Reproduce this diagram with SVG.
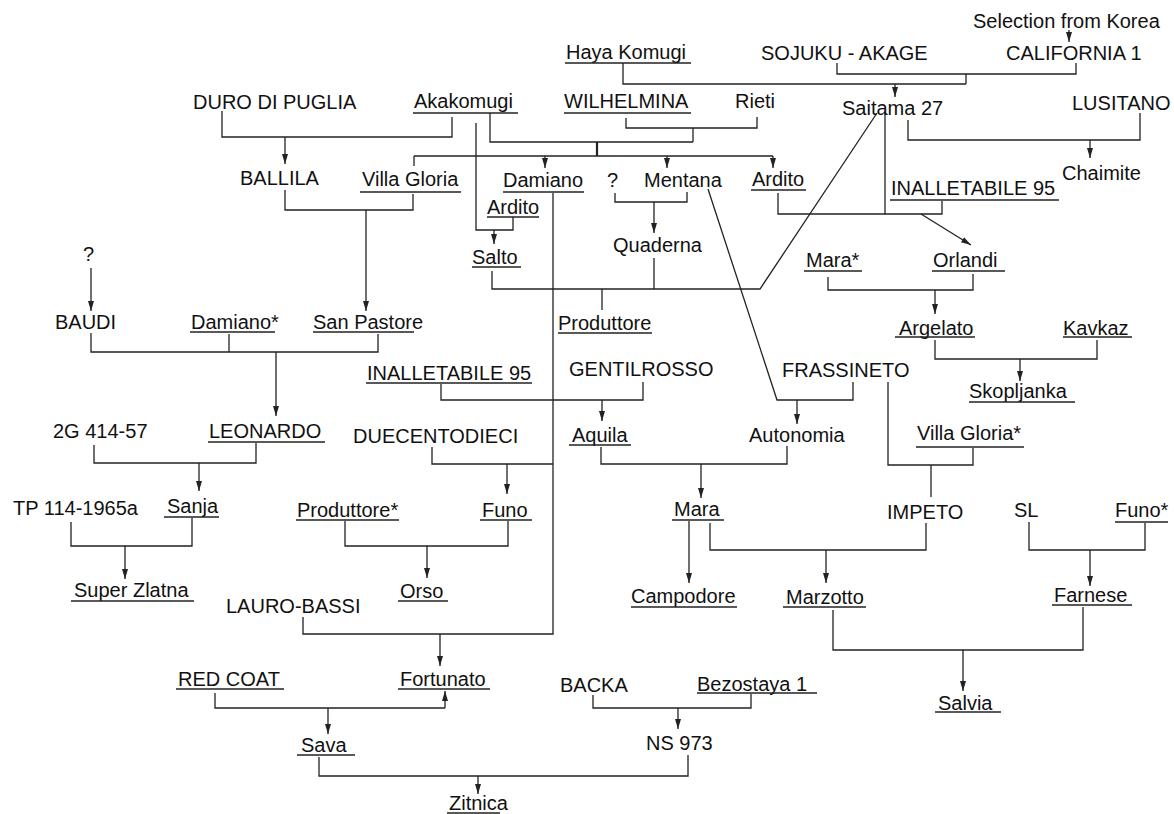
<svg xmlns="http://www.w3.org/2000/svg" width="1174" height="814" viewBox="0 0 1174 814">
<style>
.t{font-family:"Liberation Sans",Arial,Helvetica,sans-serif;font-size:20px;fill:#111}
.u{stroke:#222;stroke-width:1.3;fill:none}
.c path{fill:none;stroke:#222;stroke-width:1.3}
.a{marker-end:url(#ah)}
</style>
<defs>
<marker id="ah" viewBox="0 0 10 6" refX="10" refY="3" markerWidth="10" markerHeight="6" markerUnits="userSpaceOnUse" orient="auto">
<path d="M0,0 L10,3 L0,6 z" fill="#222"/>
</marker>
</defs>
<rect width="1174" height="814" fill="#fff"/>
<g id="connectors" class="c">
<path class="a" d="M1069,30 V42"/>
<path d="M837,63 V74 H1076 V63"/>
<path d="M966,74 V84"/>
<path d="M623,63 V84 H966"/>
<path class="a" d="M895,84 V97"/>
<path d="M908,120 V140 H1140 V113"/>
<path class="a" d="M1090,140 V158"/>
<path d="M222,111 V137 H452 V117"/>
<path class="a" d="M285,137 V164"/>
<path d="M626,118 V128 H757 V117"/>
<path d="M693,128 V142"/>
<path d="M490,113 V142 H693"/>
<path d="M597,142 V156" style="stroke-width:2.2"/>
<path d="M414,156 H773"/>
<path d="M414,156 V166"/>
<path class="a" d="M545,156 V168"/>
<path class="a" d="M667,156 V168"/>
<path class="a" d="M773,156 V168"/>
<path d="M285,190 V210 H413 V194"/>
<path class="a" d="M366,210 V311"/>
<path class="a" d="M91,268 V311"/>
<path d="M91,333 V352 H378 V334"/>
<path d="M229,334 V352"/>
<path class="a" d="M276,352 V416"/>
<path d="M94,445 V463 H256 V443"/>
<path class="a" d="M199,463 V491"/>
<path d="M71,522 V546 H192 V518"/>
<path class="a" d="M125,546 V579"/>
<path d="M476,123 V230 H513 V217"/>
<path class="a" d="M494,230 V244"/>
<path d="M615,193 V202 H687 V192"/>
<path class="a" d="M654,202 V233"/>
<path d="M492,271 V289 H760 L877,113"/>
<path d="M654,258 V289"/>
<path d="M602,289 V310"/>
<path d="M553,193 V634 H303 V617"/>
<path d="M432,447 V464 H553"/>
<path class="a" d="M507,464 V494"/>
<path class="a" d="M440,634 V666"/>
<path d="M778,193 V214 H942 V201"/>
<path d="M885,113 V214"/>
<path class="a" d="M921,214 L971,245"/>
<path d="M828,277 V290 H973 V274"/>
<path class="a" d="M935,290 V314"/>
<path d="M935,340 V359 H1097 V340"/>
<path class="a" d="M1020,359 V381"/>
<path d="M441,384 V400 H643 V382"/>
<path class="a" d="M602,400 V421"/>
<path d="M708,189 L777,400 H853 V382"/>
<path class="a" d="M797,400 V424"/>
<path d="M601,447 V464 H787 V446"/>
<path class="a" d="M701,464 V498"/>
<path d="M888,382 V465 H973 V448"/>
<path d="M931,465 V497"/>
<path class="a" d="M689,521 V583"/>
<path d="M710,523 V550 H926 V523"/>
<path class="a" d="M826,550 V583"/>
<path d="M1029,522 V550 H1145 V523"/>
<path class="a" d="M1090,550 V586"/>
<path d="M345,521 V546 H508 V521"/>
<path class="a" d="M427,546 V578"/>
<path d="M833,610 V650 H1083 V607"/>
<path class="a" d="M963,650 V691"/>
<path d="M215,693 V708 H445"/>
<path class="a" d="M445,708 V691"/>
<path class="a" d="M328,708 V734"/>
<path d="M593,695 V708 H751 V694"/>
<path class="a" d="M678,708 V729"/>
<path d="M319,757 V776 H688 V755"/>
<path class="a" d="M478,776 V794"/>
</g>
<g id="n-selection"><text class="t" x="973" y="28">Selection from Korea</text></g>
<g id="n-haya"><text class="t" x="566" y="59">Haya Komugi</text><path class="u" d="M565,63 H691"/></g>
<g id="n-sojuku"><text class="t" x="761" y="60">SOJUKU - AKAGE</text></g>
<g id="n-california"><text class="t" x="1006" y="60">CALIFORNIA 1</text></g>
<g id="n-duro"><text class="t" x="193" y="109">DURO DI PUGLIA</text></g>
<g id="n-akakomugi"><text class="t" x="414" y="108">Akakomugi</text><path class="u" d="M413,113 H518"/></g>
<g id="n-wilhelmina"><text class="t" x="564" y="108">WILHELMINA</text><path class="u" d="M564,113 H691"/></g>
<g id="n-rieti"><text class="t" x="735" y="108">Rieti</text></g>
<g id="n-saitama"><text class="t" x="842" y="115">Saitama 27</text></g>
<g id="n-lusitano"><text class="t" x="1072" y="110">LUSITANO</text></g>
<g id="n-ballila"><text class="t" x="240" y="185">BALLILA</text></g>
<g id="n-villagloria"><text class="t" x="362" y="186">Villa Gloria</text><path class="u" d="M360,192 H461"/></g>
<g id="n-damiano"><text class="t" x="503" y="187">Damiano</text><path class="u" d="M503,192 H584"/></g>
<g id="n-q1"><text class="t" x="607" y="187">?</text></g>
<g id="n-mentana"><text class="t" x="644" y="187">Mentana</text></g>
<g id="n-ardito1"><text class="t" x="752" y="186">Ardito</text><path class="u" d="M751,190 H806"/></g>
<g id="n-chaimite"><text class="t" x="1062" y="180">Chaimite</text></g>
<g id="n-inall1"><text class="t" x="891" y="195">INALLETABILE 95</text><path class="u" d="M890,200 H1059"/></g>
<g id="n-ardito2"><text class="t" x="487" y="214">Ardito</text><path class="u" d="M487,217 H539"/></g>
<g id="n-salto"><text class="t" x="472" y="264">Salto</text><path class="u" d="M472,267 H521"/></g>
<g id="n-quaderna"><text class="t" x="613" y="252">Quaderna</text></g>
<g id="n-marastar"><text class="t" x="806" y="267">Mara*</text><path class="u" d="M804,271 H862"/></g>
<g id="n-orlandi"><text class="t" x="933" y="267">Orlandi</text><path class="u" d="M932,271 H1005"/></g>
<g id="n-q2"><text class="t" x="83" y="261">?</text></g>
<g id="n-baudi"><text class="t" x="55" y="329">BAUDI</text></g>
<g id="n-damianostar"><text class="t" x="191" y="329">Damiano*</text><path class="u" d="M190,332 H275"/></g>
<g id="n-sanpastore"><text class="t" x="313" y="329">San Pastore</text><path class="u" d="M313,332 H414"/></g>
<g id="n-produttore"><text class="t" x="558" y="330">Produttore</text><path class="u" d="M558,333 H652"/></g>
<g id="n-argelato"><text class="t" x="899" y="335">Argelato</text><path class="u" d="M895,337 H975"/></g>
<g id="n-kavkaz"><text class="t" x="1063" y="335">Kavkaz</text><path class="u" d="M1063,337 H1132"/></g>
<g id="n-inall2"><text class="t" x="367" y="380">INALLETABILE 95</text><path class="u" d="M366,383 H532"/></g>
<g id="n-gentilrosso"><text class="t" x="569" y="376">GENTILROSSO</text></g>
<g id="n-frassineto"><text class="t" x="782" y="377">FRASSINETO</text></g>
<g id="n-skopljanka"><text class="t" x="969" y="398">Skopljanka</text><path class="u" d="M969,402 H1075"/></g>
<g id="n-2g"><text class="t" x="53" y="438">2G 414-57</text></g>
<g id="n-leonardo"><text class="t" x="209" y="438">LEONARDO</text><path class="u" d="M208,442 H325"/></g>
<g id="n-duecento"><text class="t" x="353" y="443">DUECENTODIECI</text></g>
<g id="n-aquila"><text class="t" x="572" y="442">Aquila</text><path class="u" d="M569,445 H631"/></g>
<g id="n-autonomia"><text class="t" x="749" y="442">Autonomia</text></g>
<g id="n-villagloriastar"><text class="t" x="917" y="440">Villa Gloria*</text><path class="u" d="M916,447 H1024"/></g>
<g id="n-tp"><text class="t" x="13" y="515">TP 114-1965a</text></g>
<g id="n-sanja"><text class="t" x="167" y="513">Sanja</text><path class="u" d="M164,517 H219"/></g>
<g id="n-produttorestar"><text class="t" x="297" y="517">Produttore*</text><path class="u" d="M296,520 H399"/></g>
<g id="n-funo"><text class="t" x="482" y="517">Funo</text><path class="u" d="M480,520 H532"/></g>
<g id="n-mara"><text class="t" x="674" y="516">Mara</text><path class="u" d="M672,520 H724"/></g>
<g id="n-impeto"><text class="t" x="887" y="519">IMPETO</text></g>
<g id="n-sl"><text class="t" x="1014" y="517">SL</text></g>
<g id="n-funostar"><text class="t" x="1115" y="517">Funo*</text><path class="u" d="M1115,522 H1168"/></g>
<g id="n-superzlatna"><text class="t" x="74" y="597">Super Zlatna</text><path class="u" d="M71,601 H194"/></g>
<g id="n-orso"><text class="t" x="400" y="598">Orso</text><path class="u" d="M398,601 H448"/></g>
<g id="n-campodore"><text class="t" x="631" y="603">Campodore</text><path class="u" d="M631,607 H737"/></g>
<g id="n-marzotto"><text class="t" x="786" y="604">Marzotto</text><path class="u" d="M783,607 H866"/></g>
<g id="n-farnese"><text class="t" x="1054" y="602">Farnese</text><path class="u" d="M1052,605 H1132"/></g>
<g id="n-lauro"><text class="t" x="226" y="613">LAURO-BASSI</text></g>
<g id="n-redcoat"><text class="t" x="178" y="686">RED COAT</text><path class="u" d="M176,689 H284"/></g>
<g id="n-fortunato"><text class="t" x="400" y="686">Fortunato</text><path class="u" d="M398,689 H490"/></g>
<g id="n-backa"><text class="t" x="560" y="692">BACKA</text></g>
<g id="n-bezostaya"><text class="t" x="697" y="691">Bezostaya 1</text><path class="u" d="M697,693 H817"/></g>
<g id="n-salvia"><text class="t" x="938" y="710">Salvia</text><path class="u" d="M935,712 H1001"/></g>
<g id="n-ns973"><text class="t" x="646" y="750">NS 973</text></g>
<g id="n-sava"><text class="t" x="301" y="752">Sava</text><path class="u" d="M297,755 H355"/></g>
<g id="n-zitnica"><text class="t" x="449" y="810">Zitnica</text><path class="u" d="M447,813 H500"/></g>
</svg>
